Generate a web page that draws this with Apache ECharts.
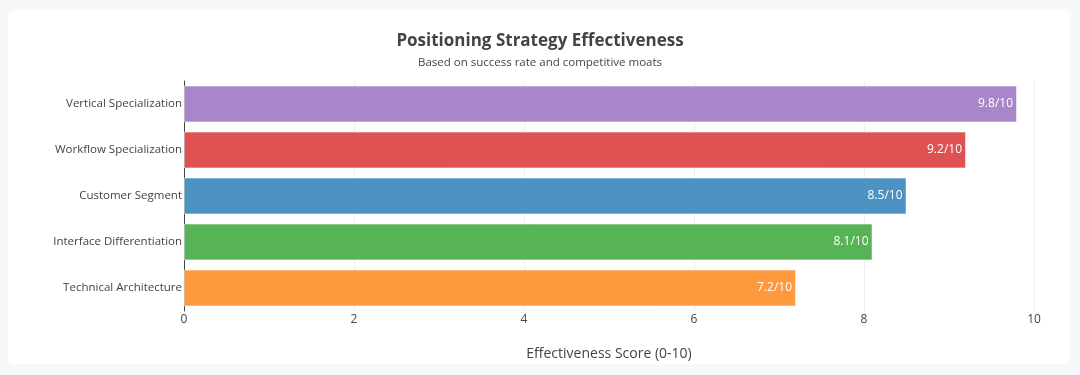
<!DOCTYPE html>
<html>
<head>
<meta charset="utf-8">
<script src="https://cdn.jsdelivr.net/npm/echarts@6/dist/echarts.min.js"></script>
<style>
  html, body { margin: 0; padding: 0; background: #f7f8fa; }
  .card {
    position: absolute; left: 8px; top: 10px; width: 1062px; height: 354px;
    background: #fff; border-radius: 6px;
  }
  #chart { position: absolute; left: 0; top: 0; width: 1080px; height: 375px; }
</style>
</head>
<body>
<div class="card"></div>
<div id="chart"></div>
<script>
// bottom-to-top order, as the category axis draws it
const categories = [
  'Technical Architecture',
  'Interface Differentiation',
  'Customer Segment',
  'Workflow Specialization',
  'Vertical Specialization'
]
const scores = [7.2, 8.1, 8.5, 9.2, 9.8]
const barColors = ['#ff993e', '#56b356', '#4c92c3', '#de5253', '#a985ca']
const xTicks = [0, 2, 4, 6, 8, 10]

const chart = echarts.init(document.getElementById('chart'))
const font = '"Open Sans", "DejaVu Sans", sans-serif'

chart.setOption({
  textStyle: { fontFamily: font },
  title: [
    {
      text: 'Positioning Strategy Effectiveness',
      left: 'center',
      top: 28,
      textStyle: { fontSize: 17, fontWeight: 'bold', color: '#444', fontFamily: font }
    },
    {
      text: 'Based on success rate and competitive moats',
      left: 'center',
      top: 52,
      textStyle: { fontSize: 11.5, fontWeight: 'normal', color: '#444', fontFamily: font }
    }
  ],
  grid: { left: 184, right: 46, top: 81, bottom: 64 },
  xAxis: {
    type: 'value',
    min: xTicks[0],
    max: xTicks[xTicks.length - 1],
    interval: 2,
    name: 'Effectiveness Score (0-10)',
    nameLocation: 'middle',
    nameGap: 36,
    nameTextStyle: { fontSize: 14, color: '#444' },
    axisLine: { show: false },
    axisTick: { show: false },
    axisLabel: { fontSize: 12, color: '#444', margin: 3 },
    splitLine: { show: true, lineStyle: { color: '#eeeeee', width: 1 } }
  },
  yAxis: {
    type: 'category',
    data: categories,
    axisLine: { show: true, lineStyle: { color: '#444', width: 1 } },
    axisTick: { show: false },
    axisLabel: { fontSize: 11.5, color: '#444', margin: 2 }
  },
  series: [{
    type: 'bar',
    barCategoryGap: '20%',
    data: scores.map((v, i) => ({
      value: v,
      itemStyle: { color: barColors[i], borderColor: 'rgba(255,255,255,0.5)', borderWidth: 1 }
    })),
    label: {
      show: true,
      position: 'insideRight',
      distance: 4,
      color: '#fff',
      fontSize: 12,
      formatter: p => p.value.toFixed(1) + '/10'
    }
  }],
  animation: false
})
</script>
</body>
</html>
